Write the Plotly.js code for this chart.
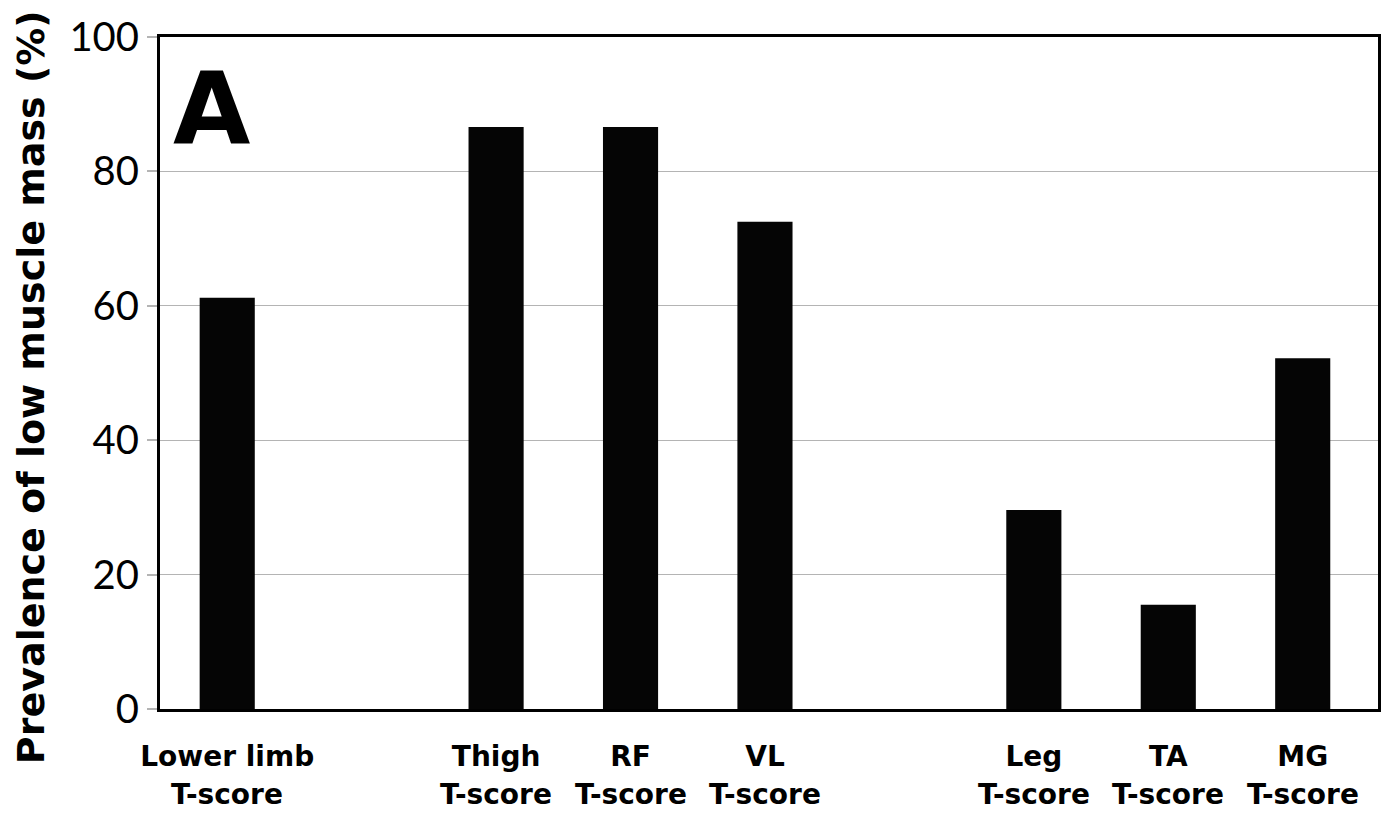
<!DOCTYPE html>
<html>
<head>
<meta charset="utf-8">
<script src="https://cdn.plot.ly/plotly-3.0.1.min.js"></script>
<style>html,body{margin:0;padding:0;background:#fff;}#chart{width:1388px;height:814px;}</style>
</head>
<body>
<div id="chart"></div>
<script>
// Categories (with blank spacer slots between the groups)
const categories = ["Lower limb", " ", "Thigh", "RF", "VL", "  ", "Leg", "TA", "MG"];
const barLabels = ["Lower limb", "Thigh", "RF", "VL", "Leg", "TA", "MG"];
const scoreLabel = "T-score";
const prevalence = [61.2, 86.6, 86.6, 72.5, 29.6, 15.5, 52.2];
const yTicks = [0, 20, 40, 60, 80, 100];

const trace = {
  type: "bar",
  x: barLabels,
  y: prevalence,
  width: 0.41,
  marker: {color: "#050505", line: {width: 0}},
  hoverinfo: "x+y"
};

const labelFont = {size: 28, family: "'DejaVu Sans', sans-serif", weight: "bold", color: "#000"};

const annotations = barLabels.map(c => ({
  text: "<b>" + scoreLabel + "</b>", xref: "x", yref: "paper",
  x: c, y: 0, xanchor: "center", yanchor: "top", yshift: -67,
  showarrow: false, font: labelFont
}));
annotations.push({
  text: "<b>A</b>", xref: "paper", yref: "paper",
  x: 0.009, y: 0.983, xanchor: "left", yanchor: "top",
  showarrow: false,
  font: {size: 100, family: "'DejaVu Sans', sans-serif", color: "#000"}
});
annotations.push({
  text: "<b>Prevalence of low muscle mass (%)</b>", xref: "paper", yref: "paper",
  x: -0.1059, y: 0.479, xanchor: "center", yanchor: "middle", textangle: -90,
  showarrow: false,
  font: {size: 38, family: "'DejaVu Sans', sans-serif", color: "#000"}
});

const layout = {
  width: 1388, height: 814,
  margin: {l: 160, r: 10, t: 37, b: 105},
  paper_bgcolor: "#fff", plot_bgcolor: "#fff",
  showlegend: false,
  font: {family: "Lato, 'Noto Sans', sans-serif", color: "#000"},
  xaxis: {
    type: "category",
    categoryorder: "array",
    categoryarray: categories,
    range: [-0.5, 8.56],
    showgrid: false,
    showline: true, linecolor: "#000", linewidth: 3, mirror: true,
    ticks: "",
    ticklabelstandoff: 20,
    tickfont: labelFont,
    zeroline: false
  },
  yaxis: {
    range: [0, 100],
    tickvals: yTicks,
    ticktext: yTicks.map(String),
    showgrid: true, gridcolor: "#b4b4b4", gridwidth: 1.3,
    showline: true, linecolor: "#000", linewidth: 3, mirror: true,
    ticks: "outside", ticklen: 10, tickcolor: "#b4b4b4", tickwidth: 2,
    tickfont: {size: 40, family: "Lato, sans-serif", color: "#000"},
    zeroline: false
  },
  annotations: annotations
};

Plotly.newPlot("chart", [trace], layout, {displayModeBar: false, staticPlot: true});
</script>
</body>
</html>
